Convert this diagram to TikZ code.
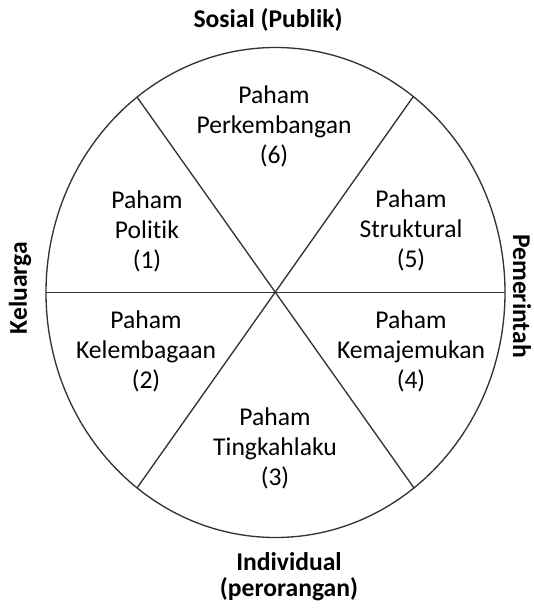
\documentclass[tikz,border=0pt]{standalone}
\usepackage{fontspec}
\setmainfont{Carlito}[Ligatures={NoCommon}]
\usepackage{tikz}

\begin{document}
\begin{tikzpicture}[x=0.75pt, y=-0.75pt,
    garis/.style={line width=1pt, black!80},
    paham/.style={align=center, font=\fontsize{19.2}{22.5}\selectfont, inner sep=0pt},
    sisi/.style={align=center, font=\bfseries\fontsize{19.2}{19.5}\selectfont, inner sep=0pt}]

    \useasboundingbox (0,0) rectangle (533,609);

    % Lingkaran
    \coordinate (pusat) at (275.5,292.5);
    \draw[garis] (pusat) ellipse (229.5 and 245);

    % Garis pembagi
    \coordinate (kiri) at (46,292.5);
    \coordinate (kanan) at (505,292.5);
    \coordinate (kiriAtas) at (137,97);
    \coordinate (kananBawah) at (414,488);
    \coordinate (kananAtas) at (413,97);
    \coordinate (kiriBawah) at (137,488);
    \draw[garis] (kiri) -- (kanan);
    \draw[garis] (kiriAtas) -- (kananBawah);
    \draw[garis] (kananAtas) -- (kiriBawah);

    % Isi juring
    \node[paham] (p6) at (274,126) {Paham\\Perkembangan\\(6)};
    \node[paham] (p1) at (147,231) {Paham\\Politik\\(1)};
    \node[paham] (p5) at (411,230) {Paham\\Struktural\\(5)};
    \node[paham] (p2) at (146,351) {Paham\\Kelembagaan\\(2)};
    \node[paham] (p4) at (411,351) {Paham\\Kemajemukan\\(4)};
    \node[paham] (p3) at (275,448) {Paham\\Tingkahlaku\\(3)};

    % Label luar
    \node[sisi] (sosial) at (268,20) {Sosial (Publik)};
    \node[sisi] (individu) at (289,577) {Individual\\(perorangan)};
    \node[sisi, rotate=90] (keluarga) at (20,288) {Keluarga};
    \node[sisi, rotate=-90] (pemerintah) at (522,296) {Pemerintah};

\end{tikzpicture}
\end{document}
